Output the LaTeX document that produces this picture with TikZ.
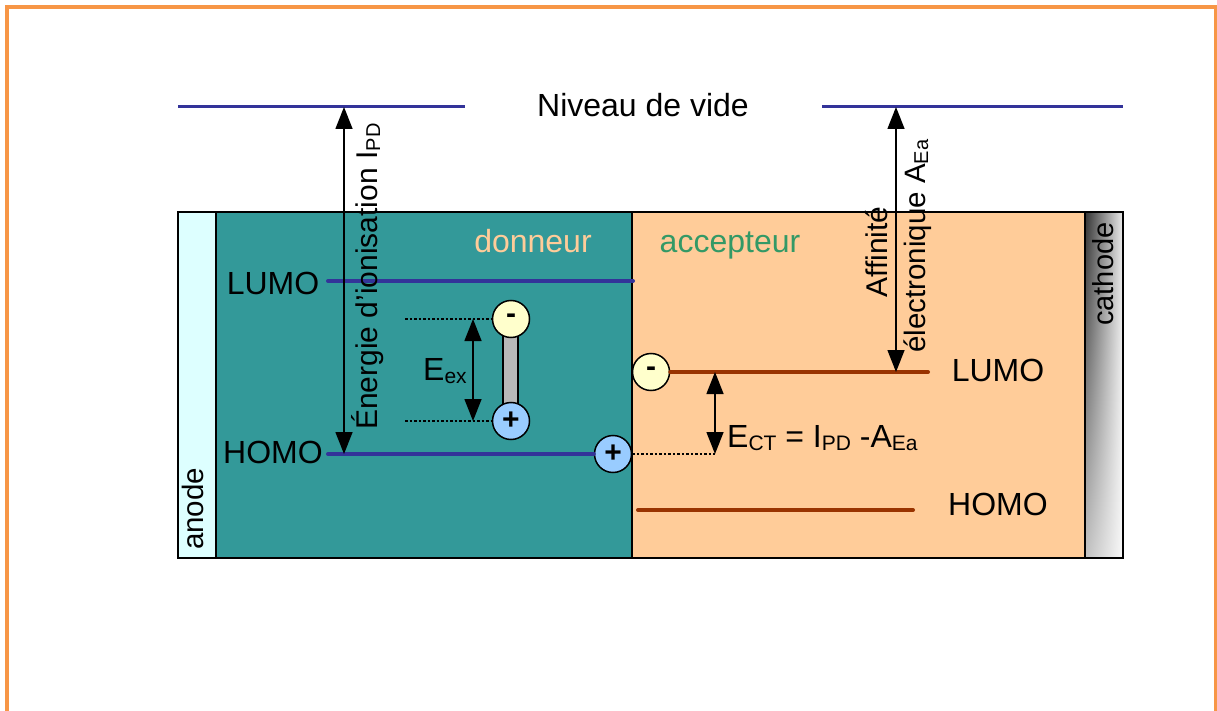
\documentclass[tikz,border=0pt]{standalone}
\usepackage{fontspec}
\setmainfont{Liberation Sans}
\usetikzlibrary{arrows.meta}
\definecolor{frameor}{HTML}{F79646}
\definecolor{donorc}{HTML}{339999}
\definecolor{peach}{HTML}{FFCC99}
\definecolor{anodec}{HTML}{DDFFFF}
\definecolor{lvlblue}{HTML}{333399}
\definecolor{lvlbrown}{HTML}{993300}
\definecolor{accgreen}{HTML}{339966}
\definecolor{elecc}{HTML}{FFFFCC}
\definecolor{holec}{HTML}{99CCFF}
\pgfdeclarefunctionalshading{cathshade}{\pgfpoint{0bp}{0bp}}{\pgfpoint{100bp}{100bp}}{}{
  25 sub 50 div
  exch 25 sub 50 div
  0.9 mul 1 exch sub
  exch 0.7 mul 0.3 add mul
  0.8 mul 1 exch sub
  dup dup
}
\newcommand\lsub[1]{\raisebox{-3pt}{\fontsize{21}{21}\selectfont #1}}
\newcommand\rsub[1]{\raisebox{-3pt}{\fontsize{20}{20}\selectfont #1}}
\begin{document}
\begin{tikzpicture}[x=1pt,y=-1pt,
  lbl/.style={font=\fontsize{32}{38}\selectfont, inner sep=0pt},
  rlbl/.style={font=\fontsize{30}{38}\selectfont, inner sep=0pt, rotate=90, anchor=base west},
  lvl/.style={line width=4pt, line cap=round},
  vac/.style={line width=3pt, lvlblue},
  darr/.style={line width=1.5pt, {Triangle[length=22pt,width=17pt]}-{Triangle[length=22pt,width=17pt]}},
  dots/.style={dash pattern=on 2.5pt off 2pt, line width=1.3pt},
  layer/.style={draw=black, line width=2pt},
  charge/.style={circle, draw=black, line width=1.5pt, minimum size=37pt, inner sep=0pt, font=\fontsize{30}{30}\selectfont\bfseries}
]
\clip (0,0) rectangle (1217,711);
\fill[white] (0,0) rectangle (1217,711);
\draw[frameor, line width=4pt] (7,7) rectangle (1216,780);

% layers
\filldraw[layer, fill=anodec] (178,212) rectangle (216,558);
\filldraw[layer, fill=donorc] (216,212) rectangle (632,558);
\filldraw[layer, fill=peach] (632,212) rectangle (1085,558);
\shade[shading=cathshade] (1085,212) rectangle (1123,558);
\draw[layer] (1085,212) rectangle (1123,558);

% vacuum level
\coordinate (vacL1) at (178,107); \coordinate (vacL2) at (465,107);
\coordinate (vacR1) at (822,107); \coordinate (vacR2) at (1123,107);
\draw[vac] (vacL1) -- (vacL2);
\draw[vac] (vacR1) -- (vacR2);
\node[lbl, anchor=base] (niv) at (643,117) {Niveau de vide};

% charges
\node[charge, fill=holec] (hD) at (613,454) {+};
\node[charge, fill=elecc] (eA) at (651,372) {-};

% donor levels
\coordinate (dLa) at (328,281); \coordinate (dLb) at (633,281);
\coordinate (dHa) at (328,454);
\draw[lvl, lvlblue] (dLa) -- (dLb);
\draw[lvl, lvlblue] (dHa) -- (hD.west);

% acceptor levels
\coordinate (aLb) at (928,372);
\coordinate (aHa) at (638,510); \coordinate (aHb) at (913,510);
\draw[lvl, lvlbrown] (eA.east) -- (aLb);
\draw[lvl, lvlbrown] (aHa) -- (aHb);

% exciton
\filldraw[fill=black!28, line width=1.5pt] (503,319) rectangle (518,421);
\node[charge, fill=elecc] (eX) at (511,319) {-};
\node[charge, fill=holec] (hX) at (511,421) {+};
\coordinate (dotA) at (405,319); \coordinate (dotB) at (405,421);
\draw[dots] (dotA) -- (eX.west);
\draw[dots] (dotB) -- (hX.west);
\coordinate (exT) at (473,319); \coordinate (exB) at (473,421);
\draw[darr] (exT) -- (exB);
\node[lbl, anchor=base west] (eex) at (423,380) {E\lsub{ex}};

% charge transfer
\coordinate (ctT) at (715,372); \coordinate (ctB) at (715,454);
\draw[dots] (hD.east) -- (ctB);
\draw[darr] (ctT) -- (ctB);
\node[lbl, anchor=base west] (ect) at (727,447) {E\lsub{CT} = I\lsub{PD} -A\lsub{Ea}};

% ionisation energy
\coordinate (ipT) at (344,107); \coordinate (ipB) at (344,454);
\draw[darr] (ipT) -- (ipB);
\node[rlbl] (ipd) at (377,430) {Énergie d’ionisation I\rsub{PD}};

% electron affinity
\coordinate (aeT) at (896,107); \coordinate (aeB) at (896,372);
\draw[darr] (aeT) -- (aeB);
\node[rlbl] (aff1) at (887,298) {Affinité};
\node[rlbl, font=\fontsize{29.5}{38}\selectfont] (aff2) at (925,353) {électronique A\rsub{Ea}};

% labels
\node[lbl, anchor=base] (lumoD) at (273,294) {LUMO};
\node[lbl, anchor=base] (homoD) at (273,463) {HOMO};
\node[lbl, anchor=base] (lumoA) at (998,381) {LUMO};
\node[lbl, anchor=base] (homoA) at (998,515) {HOMO};
\node[lbl, anchor=base, text=peach] (don) at (533,252) {donneur};
\node[lbl, anchor=base, text=accgreen] (acc) at (730,252) {accepteur};
\node[rlbl, font=\fontsize{29.5}{38}\selectfont] (anode) at (203,550) {anode};
\node[rlbl, font=\fontsize{29}{38}\selectfont] (cathode) at (1113,326) {cathode};
\end{tikzpicture}
\end{document}
